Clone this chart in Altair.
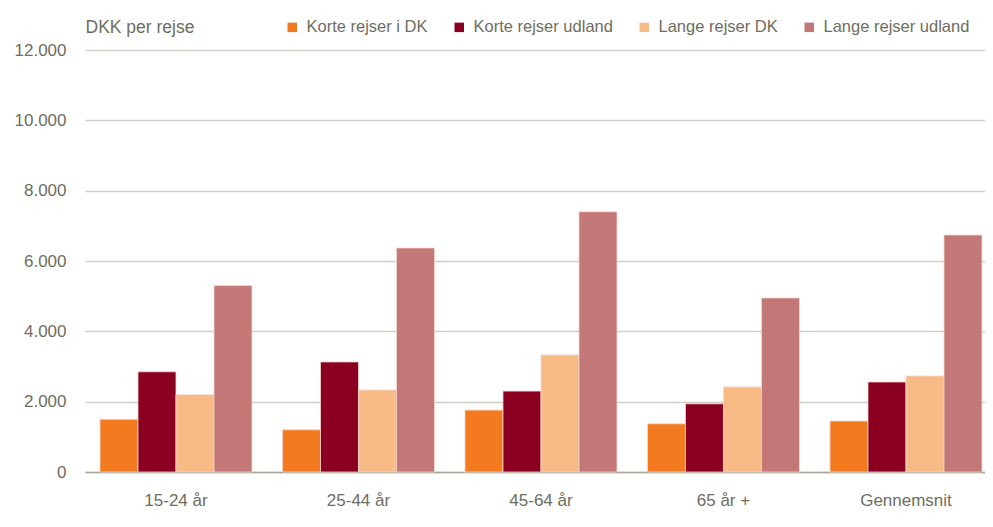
import altair as alt
import pandas as pd

categories = ["15-24 år", "25-44 år", "45-64 år", "65 år +", "Gennemsnit"]
series = ["Korte rejser i DK", "Korte rejser udland", "Lange rejser DK", "Lange rejser udland"]
korte_dk = [1500, 1200, 1760, 1370, 1450]
korte_udland = [2850, 3130, 2300, 1940, 2560]
lange_dk = [2200, 2330, 3330, 2420, 2730]
lange_udland = [5300, 6370, 7400, 4950, 6740]
colors = ["#F47A20", "#8B0021", "#F9BB85", "#C47777"]
y_ticks = [0, 2000, 4000, 6000, 8000, 10000, 12000]

rows = []
for s, vals in zip(series, [korte_dk, korte_udland, lange_dk, lange_udland]):
    for c, v in zip(categories, vals):
        rows.append({"kategori": c, "serie": s, "værdi": v})
df = pd.DataFrame(rows)

FONT = "Liberation Sans"
TXT = "#6E6E5E"

chart = alt.Chart(df).mark_bar(stroke="#F3D8D0", strokeWidth=1, strokeOpacity=0.8).encode(
    x=alt.X("kategori:N", sort=categories,
            scale=alt.Scale(paddingInner=0.167, paddingOuter=0.0493, align=0.833),
            axis=alt.Axis(title=None, labelAngle=0, tickSize=0, labelPadding=20,
                          labelFontSize=17, labelColor=TXT, labelFont=FONT,
                          domainColor="#A8A898", domainWidth=1.5, grid=False)),
    xOffset=alt.XOffset("serie:N", sort=series, scale=alt.Scale(paddingInner=0, paddingOuter=0)),
    y=alt.Y("værdi:Q", scale=alt.Scale(domain=[0, 12000], nice=False),
            axis=alt.Axis(values=y_ticks, tickSize=0, domain=False, labelPadding=19,
                          labelFontSize=17, labelColor=TXT, labelFont=FONT,
                          labelExpr="replace(format(datum.value, ',.0f'), ',', '.')",
                          gridColor="#CFCFC3", gridWidth=1.3,
                          title="DKK per rejse", titleAngle=0, titleAlign="left",
                          titleBaseline="middle", titleX=0, titleY=-23,
                          titleFontSize=17.5, titleFontWeight="normal",
                          titleColor=TXT, titleFont=FONT)),
    color=alt.Color("serie:N", sort=series,
                    scale=alt.Scale(domain=series, range=colors),
                    legend=alt.Legend(title=None, orient="none", direction="horizontal",
                                      legendX=199, legendY=-31, padding=0, symbolType="square",
                                      symbolSize=90, symbolStrokeWidth=0,
                                      labelFontSize=16.5, labelColor=TXT, labelFont=FONT,
                                      labelOffset=6, columnPadding=23, columns=4)),
).properties(
    width=900, height=422,
    autosize=alt.AutoSizeParams(type="none"),
    padding={"left": 77, "top": 42, "right": 0, "bottom": 40},
).configure_view(stroke=None)

chart.save("out.html", embed_options={"renderer": "svg", "actions": False})
